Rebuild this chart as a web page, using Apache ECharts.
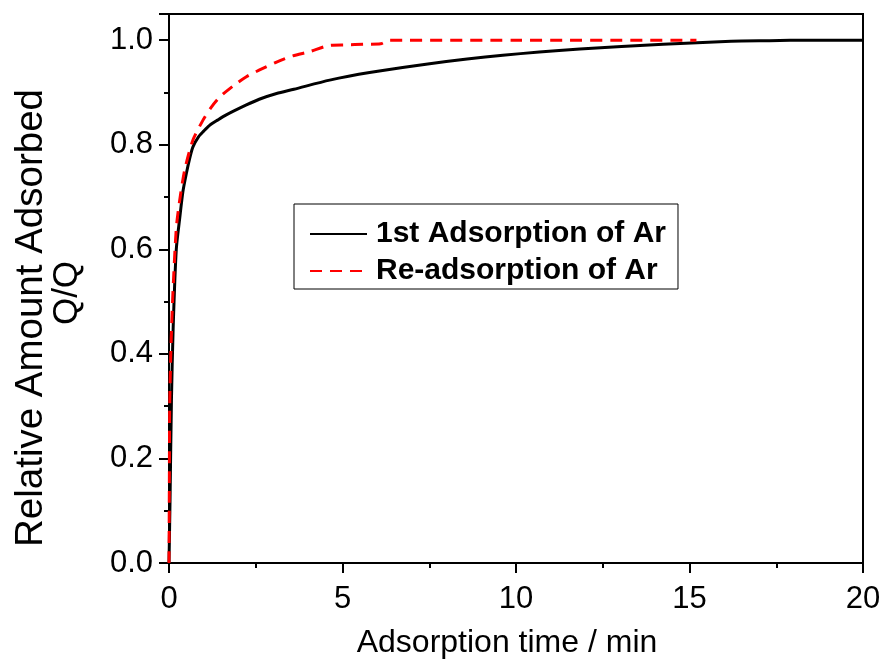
<!DOCTYPE html>
<html>
<head>
<meta charset="utf-8">
<title>Adsorption kinetics of Ar</title>
<script src="https://cdn.jsdelivr.net/npm/echarts@6/dist/echarts.min.js"></script>
<style>
  html, body { margin: 0; padding: 0; background: #fff; }
  #chart { width: 887px; height: 667px; }
</style>
</head>
<body>
<div id="chart"></div>
<script>
// Adsorption time (min) and relative amount adsorbed (Q/Q) for each run
const firstTime = [0, 0.03, 0.07, 0.12, 0.21, 0.31, 0.4, 0.5, 0.6, 0.69, 0.85, 1.0, 1.17, 1.4, 1.65, 2.23, 2.6, 3.1, 3.6, 4.63, 5.78, 7.51, 9.62, 11.84, 14.24, 16.2, 17.3, 18.5, 20];
const firstQ    = [0, 0.12, 0.31, 0.45, 0.6, 0.66, 0.71, 0.745, 0.775, 0.796, 0.815, 0.826, 0.837, 0.847, 0.857, 0.876, 0.887, 0.898, 0.906, 0.9235, 0.938, 0.955, 0.971, 0.983, 0.992, 0.998, 0.999, 1.0, 1.0];

const reTime = [0, 0.01, 0.02, 0.06, 0.115, 0.21, 0.3, 0.45, 0.69, 0.98, 1.2, 1.46, 1.84, 2.23, 2.61, 3.1, 3.57, 4.05, 4.63, 5.1, 5.6, 6.1, 6.35, 10, 15.2];
const reQ    = [0, 0.15, 0.3, 0.42, 0.52, 0.64, 0.69, 0.751, 0.809, 0.847, 0.87, 0.891, 0.912, 0.93, 0.943, 0.958, 0.97, 0.978, 0.99, 0.991, 0.992, 0.993, 1.0, 1.0, 1.0];

const seriesNames = ['1st Adsorption of Ar', 'Re-adsorption of Ar'];
const yTitleLines = ['Relative Amount Adsorbed', 'Q/Q'];
const xTitle = 'Adsorption time / min';

const pairs = (xs, ys) => xs.map((x, i) => [x, ys[i]]);

const FONT = 'Liberation Sans, Arial, sans-serif';
const AXIS = { color: '#000', width: 2 };

const chart = echarts.init(document.getElementById('chart'), null, { renderer: 'canvas' });

chart.setOption({
  animation: false,
  backgroundColor: '#fff',
  grid: {
    left: 169, right: 24, top: 14, bottom: 104,
    show: true, borderColor: '#000', borderWidth: 2
  },
  legend: {
    orient: 'vertical',
    left: 294, top: 204,
    padding: [15, 12, 3, 15],
    itemGap: 7,
    itemWidth: 57,
    itemHeight: 14,
    borderColor: '#000',
    borderWidth: 1,
    borderRadius: 0,
    data: seriesNames,
    itemStyle: { opacity: 0 },
    textStyle: { fontFamily: FONT, fontSize: 30, fontWeight: 'bold', color: '#000', padding: [0, 0, 0, 4] }
  },
  // vertical axis title, two lines read bottom to top
  graphic: [{
    type: 'text',
    x: 31, y: 318,
    rotation: Math.PI / 2,
    style: {
      text: yTitleLines[0], fill: '#000',
      font: '38.5px ' + FONT,
      align: 'center', verticalAlign: 'middle'
    }
  }, {
    type: 'text',
    x: 67, y: 293,
    rotation: Math.PI / 2,
    style: {
      text: yTitleLines[1], fill: '#000',
      font: '35px ' + FONT,
      align: 'center', verticalAlign: 'middle'
    }
  }],
  xAxis: [{
    type: 'value', min: 0, max: 20, interval: 5,
    name: xTitle,
    nameLocation: 'middle', nameGap: 64,
    nameTextStyle: { fontFamily: FONT, fontSize: 32, color: '#000', padding: [0, 18, 0, 0] },
    axisLine: { lineStyle: AXIS },
    axisTick: { inside: false, length: 10, lineStyle: AXIS },
    minorTick: { show: true, splitNumber: 2, length: 5, lineStyle: AXIS },
    axisLabel: { fontFamily: FONT, fontSize: 31, color: '#000', margin: 21 },
    splitLine: { show: false }
  }, {
    type: 'value', min: 0, max: 20, interval: 5, position: 'top',
    axisLine: { lineStyle: AXIS },
    axisTick: { inside: true, length: 3, lineStyle: AXIS },
    minorTick: { show: true, splitNumber: 2, length: 2, lineStyle: AXIS },
    axisLabel: { show: false },
    splitLine: { show: false }
  }],
  yAxis: [{
    type: 'value', min: 0, max: 1.05, interval: 0.2,
    axisLine: { lineStyle: AXIS },
    axisTick: { inside: false, length: 10, lineStyle: AXIS },
    minorTick: { show: true, splitNumber: 2, length: 5, lineStyle: AXIS },
    axisLabel: {
      fontFamily: FONT, fontSize: 31, color: '#000', margin: 16,
      showMaxLabel: false,
      formatter: v => v.toFixed(1)
    },
    splitLine: { show: false }
  }, {
    type: 'value', min: 0, max: 1.05, interval: 0.2, position: 'right',
    axisLine: { lineStyle: AXIS },
    axisTick: { inside: true, length: 3, lineStyle: AXIS },
    minorTick: { show: true, splitNumber: 2, length: 2, lineStyle: AXIS },
    axisLabel: { show: false },
    splitLine: { show: false }
  }],
  series: [{
    name: seriesNames[0],
    type: 'line',
    data: pairs(firstTime, firstQ),
    symbol: 'none',
    smooth: 0.25,
    lineStyle: { color: '#000', width: 3, type: 'solid' },
    itemStyle: { color: '#000' },
    z: 3
  }, {
    name: seriesNames[1],
    type: 'line',
    data: pairs(reTime, reQ),
    symbol: 'none',
    smooth: 0.25,
    lineStyle: { color: '#ff0000', width: 3, type: [12, 8] },
    itemStyle: { color: '#ff0000' },
    z: 4
  }]
});
</script>
</body>
</html>
